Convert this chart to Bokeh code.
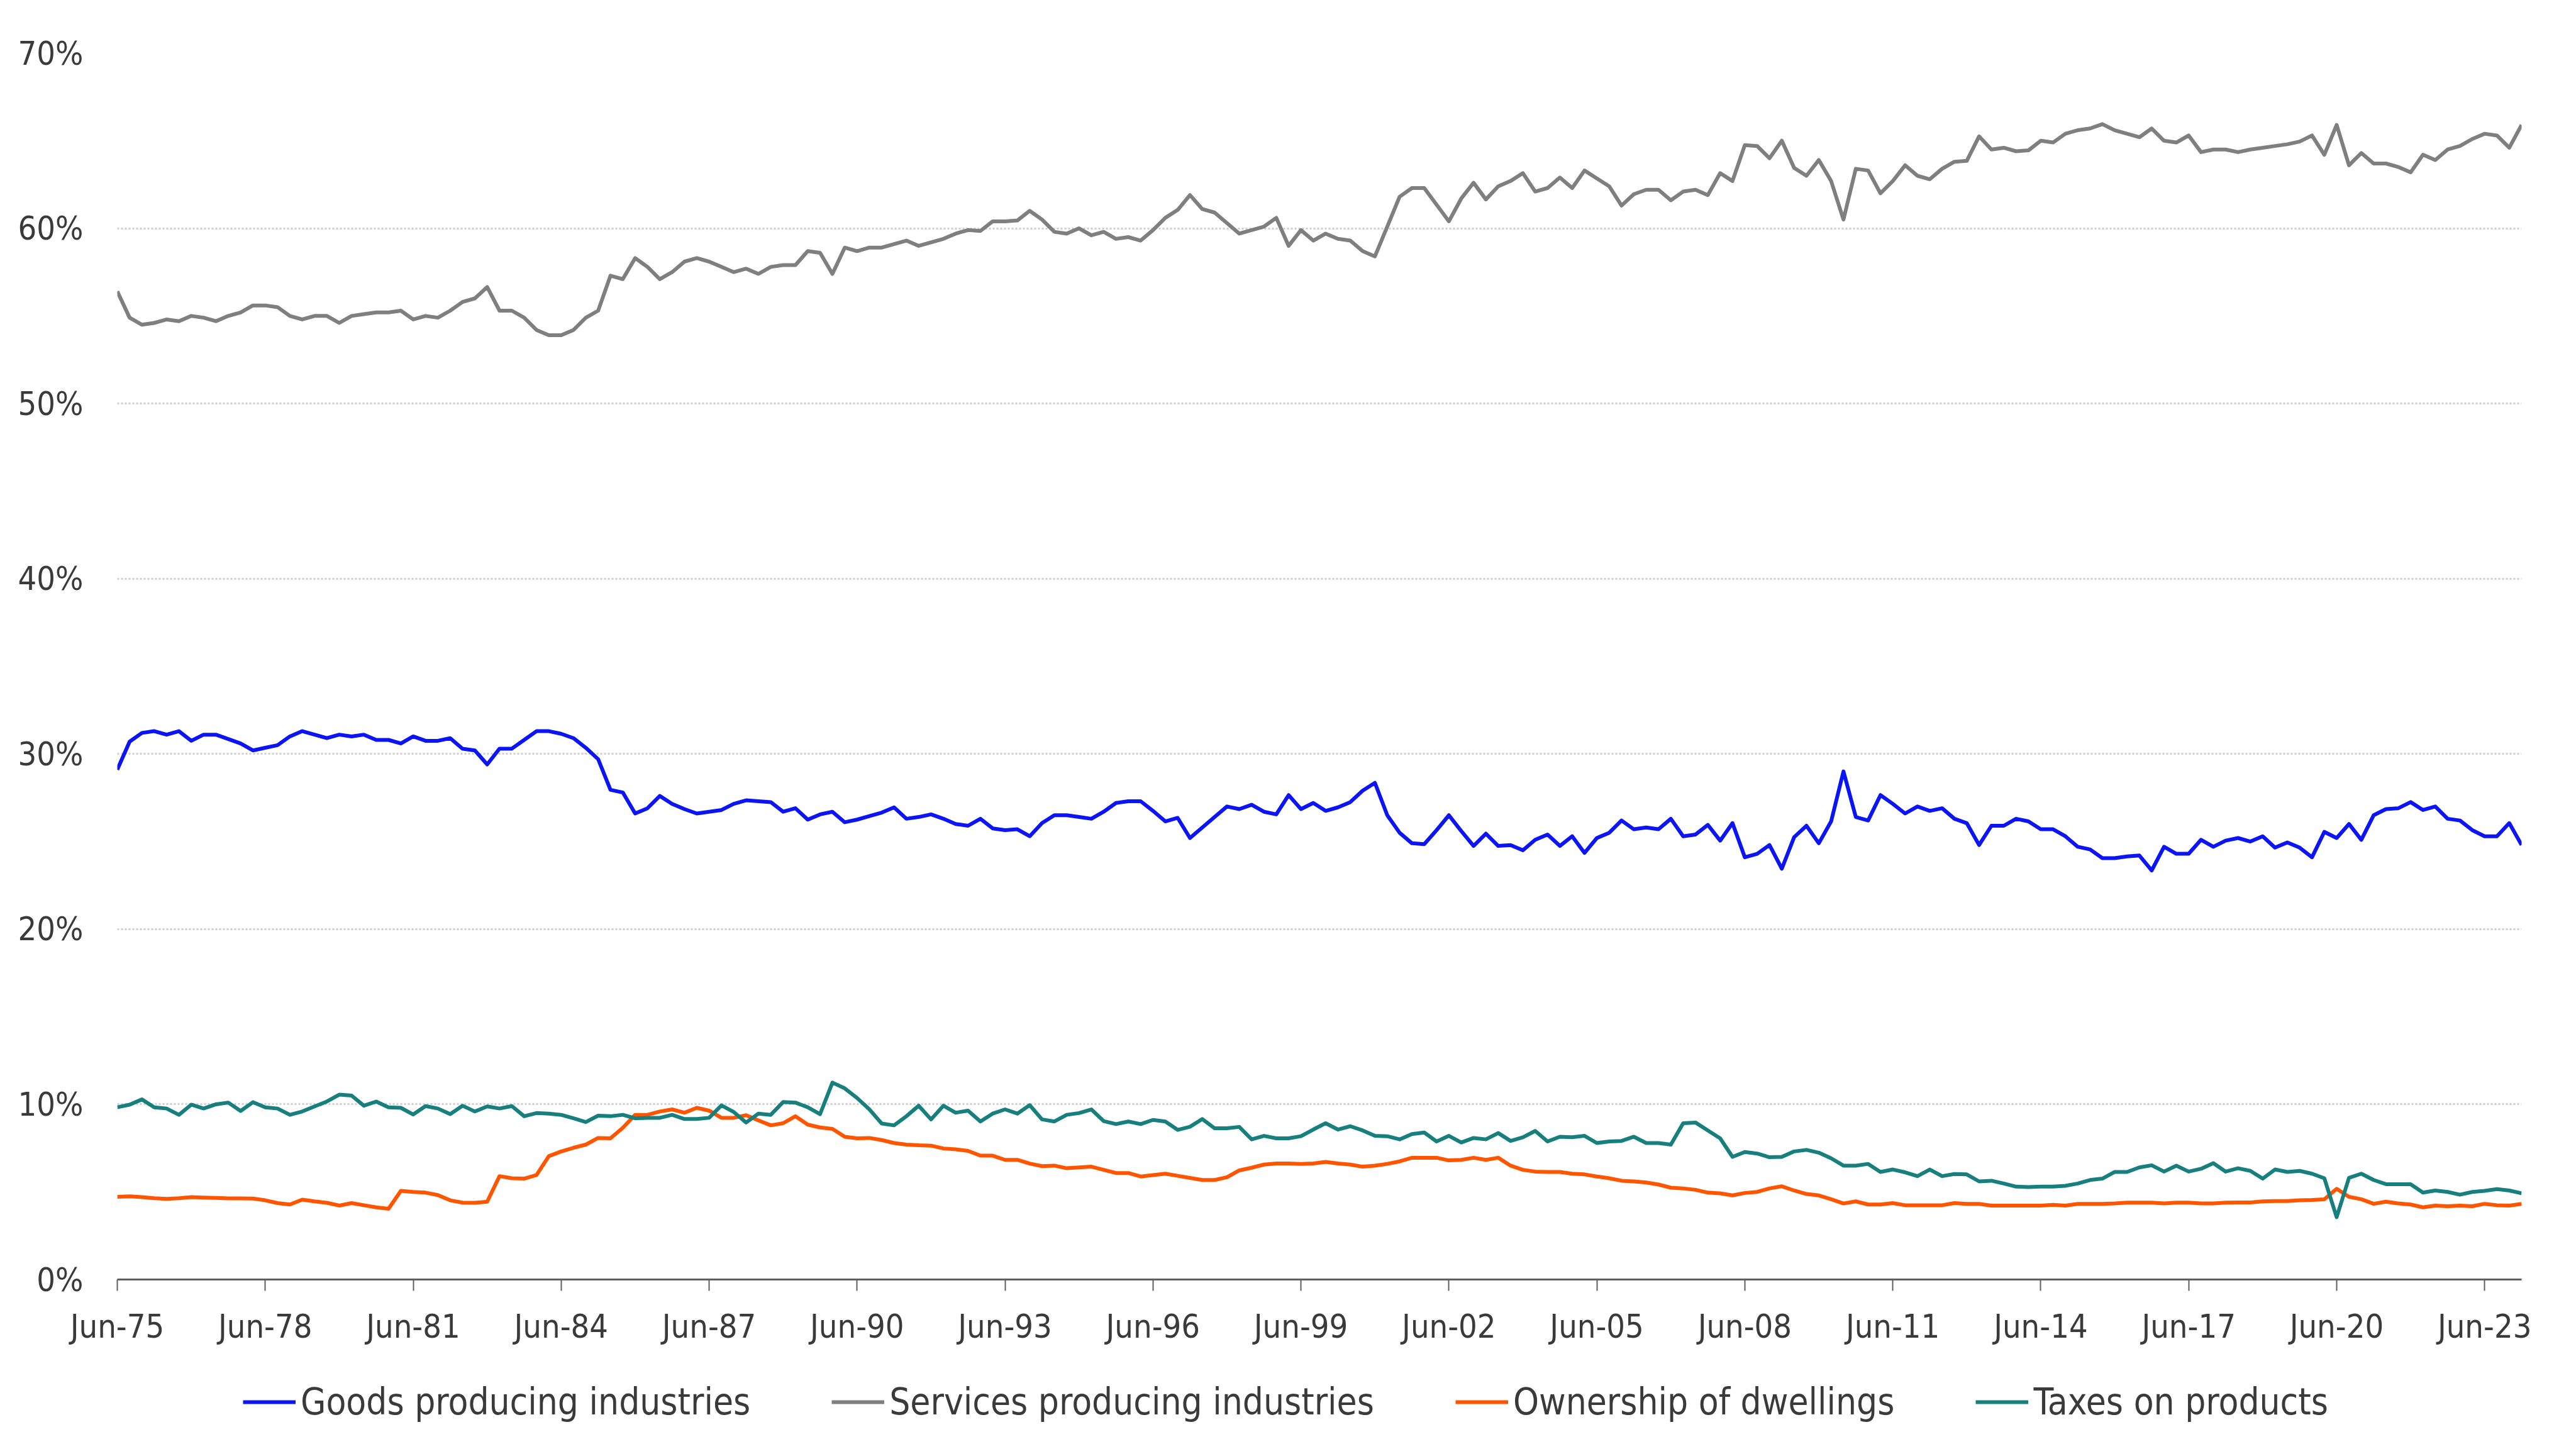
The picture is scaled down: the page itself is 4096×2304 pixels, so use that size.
from bokeh.plotting import figure
from bokeh.layouts import column
from bokeh.models import FixedTicker, PrintfTickFormatter, Legend, LegendItem, Range1d
from bokeh.embed import file_html
from bokeh.resources import INLINE

# Quarterly data, Jun-75 .. Mar-24 (share of GDP, %)
tick_labels = ["Jun-75", "Jun-78", "Jun-81", "Jun-84", "Jun-87", "Jun-90", "Jun-93",
               "Jun-96", "Jun-99", "Jun-02", "Jun-05", "Jun-08", "Jun-11", "Jun-14",
               "Jun-17", "Jun-20", "Jun-23"]

goods = [29.1, 30.7, 31.2, 31.3, 31.1, 31.3, 30.75, 31.1, 31.1, 30.85, 30.6, 30.2, 30.35, 30.5,
         31.0, 31.3, 31.1, 30.9, 31.1, 31.0, 31.1, 30.8, 30.8, 30.6, 31.0, 30.75, 30.75, 30.9,
         30.3, 30.2, 29.4, 30.3, 30.3, 30.8, 31.3, 31.3, 31.15, 30.9, 30.35, 29.7, 27.95, 27.8,
         26.6, 26.9, 27.6, 27.15, 26.85, 26.6, 26.7, 26.8, 27.15, 27.35, 27.3, 27.25, 26.7, 26.9,
         26.25, 26.55, 26.7, 26.1, 26.25, 26.45, 26.65, 26.95, 26.3, 26.4, 26.55, 26.3, 26.0, 25.9,
         26.3, 25.75, 25.65, 25.7, 25.3, 26.05, 26.5, 26.5, 26.4, 26.3, 26.7, 27.2, 27.3, 27.3,
         26.75, 26.15, 26.35, 25.2, 25.8, 26.4, 27.0, 26.85, 27.1, 26.7, 26.55, 27.65, 26.85, 27.2,
         26.75, 26.95, 27.25, 27.9, 28.35, 26.5, 25.5, 24.9, 24.85, 25.65, 26.5, 25.6, 24.75, 25.45,
         24.75, 24.8, 24.5, 25.1, 25.4, 24.75, 25.3, 24.35, 25.2, 25.5, 26.2, 25.7, 25.8, 25.7,
         26.3, 25.3, 25.4, 25.95, 25.05, 26.05, 24.1, 24.3, 24.8, 23.45, 25.25, 25.9, 24.9, 26.15,
         29.0, 26.4, 26.2, 27.65, 27.15, 26.6, 27.0, 26.75, 26.9, 26.3, 26.05, 24.8, 25.9, 25.9,
         26.3, 26.15, 25.7, 25.7, 25.3, 24.7, 24.55, 24.05, 24.05, 24.15, 24.2, 23.35, 24.7, 24.3,
         24.3, 25.1, 24.7, 25.05, 25.2, 25.0, 25.3, 24.65, 24.95, 24.65, 24.1, 25.55, 25.2, 26.0,
         25.1, 26.5, 26.85, 26.9, 27.25, 26.8, 27.0, 26.3, 26.2, 25.65, 25.3, 25.3, 26.05, 24.8]

services = [56.4, 54.9, 54.5, 54.6, 54.8, 54.7, 55.0, 54.9, 54.7, 55.0, 55.2, 55.6, 55.6, 55.5,
            55.0, 54.8, 55.0, 55.0, 54.6, 55.0, 55.1, 55.2, 55.2, 55.3, 54.8, 55.0, 54.9, 55.3,
            55.8, 56.0, 56.65, 55.3, 55.3, 54.9, 54.2, 53.9, 53.9, 54.2, 54.9, 55.3, 57.3, 57.1,
            58.3, 57.8, 57.1, 57.5, 58.1, 58.3, 58.1, 57.8, 57.5, 57.7, 57.4, 57.8, 57.9, 57.9,
            58.7, 58.6, 57.4, 58.9, 58.7, 58.9, 58.9, 59.1, 59.3, 59.0, 59.2, 59.4, 59.7, 59.9,
            59.85, 60.4, 60.4, 60.45, 61.0, 60.5, 59.8, 59.7, 60.0, 59.6, 59.8, 59.4, 59.5, 59.3,
            59.9, 60.6, 61.05, 61.9, 61.1, 60.9, 60.3, 59.7, 59.9, 60.1, 60.6, 59.0, 59.9, 59.3,
            59.7, 59.4, 59.3, 58.7, 58.4, 60.1, 61.8, 62.3, 62.3, 61.35, 60.4, 61.7, 62.6, 61.65,
            62.4, 62.7, 63.15, 62.1, 62.3, 62.9, 62.3, 63.3, 62.85, 62.4, 61.3, 61.95, 62.2, 62.2,
            61.6, 62.1, 62.2, 61.9, 63.15, 62.7, 64.75, 64.7, 64.0, 65.0, 63.45, 63.0, 63.9, 62.7,
            60.5, 63.4, 63.3, 62.0, 62.7, 63.6, 63.0, 62.8, 63.4, 63.8, 63.85, 65.25, 64.5, 64.6,
            64.4, 64.45, 65.0, 64.9, 65.4, 65.6, 65.7, 65.95, 65.6, 65.4, 65.2, 65.7, 65.0, 64.9,
            65.3, 64.35, 64.5, 64.5, 64.35, 64.5, 64.6, 64.7, 64.8, 64.95, 65.3, 64.2, 65.9, 63.6,
            64.3, 63.7, 63.7, 63.5, 63.2, 64.2, 63.9, 64.5, 64.7, 65.1, 65.4, 65.3, 64.6, 65.9]

dwellings = [4.72, 4.75, 4.70, 4.64, 4.60, 4.64, 4.70, 4.68, 4.66, 4.63, 4.63, 4.62, 4.52, 4.36,
             4.28, 4.56, 4.46, 4.38, 4.22, 4.36, 4.24, 4.12, 4.04, 5.06, 5.0, 4.96, 4.82, 4.52,
             4.39, 4.38, 4.44, 5.9, 5.78, 5.76, 5.96, 7.04, 7.31, 7.52, 7.7, 8.08, 8.06, 8.66,
             9.4, 9.4, 9.59, 9.71, 9.52, 9.8, 9.64, 9.23, 9.23, 9.38, 9.08, 8.8, 8.92, 9.32,
             8.84, 8.68, 8.6, 8.15, 8.06, 8.08, 7.96, 7.79, 7.7, 7.66,
             7.64, 7.48, 7.43, 7.34, 7.07, 7.07, 6.83, 6.83, 6.62, 6.47, 6.5, 6.35, 6.4, 6.44,
             6.26, 6.08, 6.08, 5.88, 5.96, 6.04, 5.92, 5.8, 5.68, 5.68, 5.84, 6.23, 6.38, 6.56,
             6.62, 6.62, 6.6, 6.62, 6.71, 6.62, 6.56, 6.44, 6.5, 6.6, 6.74, 6.95, 6.95, 6.95,
             6.8, 6.83, 6.95, 6.83, 6.95, 6.5, 6.26, 6.16, 6.14, 6.14, 6.04, 6.0, 5.88, 5.78,
             5.64, 5.6, 5.54, 5.42, 5.24, 5.2, 5.12, 4.96, 4.92, 4.8,
             4.94, 5.0, 5.2, 5.32, 5.08, 4.88, 4.8, 4.58, 4.34, 4.46, 4.28, 4.28, 4.36, 4.24,
             4.24, 4.24, 4.24, 4.36, 4.32, 4.32, 4.22, 4.22, 4.22, 4.22, 4.22, 4.26, 4.22, 4.32,
             4.32, 4.32, 4.34, 4.39, 4.39, 4.39, 4.34, 4.39, 4.39, 4.34, 4.34, 4.39, 4.4, 4.4,
             4.46, 4.48, 4.48, 4.52, 4.54, 4.58, 5.18, 4.72, 4.58, 4.32, 4.44, 4.34, 4.28, 4.12,
             4.22, 4.18, 4.22, 4.18, 4.32, 4.24, 4.22, 4.32]

taxes = [9.83, 9.98, 10.28, 9.83, 9.76, 9.4, 9.98, 9.76, 10.0, 10.1, 9.62, 10.12, 9.83, 9.76,
         9.4, 9.59, 9.88, 10.16, 10.55, 10.5, 9.92, 10.16, 9.83, 9.8, 9.42, 9.9, 9.76, 9.44,
         9.92, 9.59, 9.88, 9.76, 9.9, 9.32, 9.5, 9.47, 9.4, 9.2, 8.99, 9.35, 9.32, 9.4, 9.2,
         9.23, 9.23, 9.4, 9.16, 9.16, 9.23, 9.94, 9.56, 8.96, 9.47, 9.4, 10.13, 10.1, 9.83,
         9.44, 11.24, 10.91, 10.36, 9.71, 8.9, 8.8, 9.32, 9.92,
         9.14, 9.92, 9.52, 9.64, 9.02, 9.47, 9.71, 9.47, 9.95, 9.14, 9.02, 9.4, 9.5, 9.71,
         9.04, 8.87, 9.02, 8.87, 9.11, 9.02, 8.54, 8.72, 9.16, 8.63, 8.63, 8.71, 8.0, 8.2,
         8.06, 8.06, 8.18, 8.56, 8.92, 8.56, 8.75, 8.51, 8.2, 8.18, 8.0, 8.3, 8.39, 7.88,
         8.2, 7.82, 8.08, 8.0, 8.36, 7.91, 8.12, 8.48, 7.88, 8.15, 8.12, 8.2, 7.79, 7.88,
         7.91, 8.15, 7.79, 7.79, 7.7, 8.92, 8.96, 8.51, 8.06, 7.0,
         7.28, 7.19, 6.98, 7.0, 7.31, 7.4, 7.24, 6.92, 6.5, 6.5, 6.6, 6.14, 6.28, 6.12,
         5.9, 6.28, 5.9, 6.02, 6.0, 5.6, 5.64, 5.48, 5.3, 5.28, 5.3, 5.3, 5.35, 5.48,
         5.68, 5.76, 6.14, 6.14, 6.4, 6.52, 6.16, 6.5, 6.16, 6.32, 6.64, 6.16, 6.35, 6.2,
         5.76, 6.28, 6.14, 6.2, 6.04, 5.78, 3.56, 5.8, 6.04, 5.68, 5.44, 5.44, 5.44, 4.96,
         5.08, 5.0, 4.84, 5.0, 5.06, 5.16, 5.08, 4.92]

series_names = ["Goods producing industries", "Services producing industries",
                "Ownership of dwellings", "Taxes on products"]
series_colors = ["#0A14F5", "#7F7F7F", "#FF5500", "#17807E"]

for s in (goods, services, dwellings, taxes):
    assert len(s) == 196, len(s)

n = len(goods)
xs = list(range(n))
FONT = "DejaVu Sans Condensed"
TXT = "#3A3A3A"
W = 4080
H_MAIN = 2150
H_LEG = 146
LW = 6

p = figure(width=W, height=H_MAIN, output_backend="svg", toolbar_location=None,
           x_range=Range1d(0, n - 1), y_range=Range1d(0, 70))
p.min_border_left = 186
p.min_border_right = 71
p.min_border_top = 84
p.min_border_bottom = H_MAIN - 2034
p.outline_line_color = None
p.background_fill_color = "white"
p.border_fill_color = "white"

# grid
p.xgrid.grid_line_color = None
p.ygrid.ticker = FixedTicker(ticks=[10, 20, 30, 40, 50, 60, 70])
p.ygrid.grid_line_color = "#CFCFCF"
p.ygrid.grid_line_width = 3
p.ygrid.grid_line_dash = "3 3"

# y axis
p.yaxis.ticker = FixedTicker(ticks=[0, 10, 20, 30, 40, 50, 60, 70])
p.yaxis.formatter = PrintfTickFormatter(format="%d%%")
p.yaxis.axis_line_color = None
p.yaxis.major_tick_line_color = None
p.yaxis.minor_tick_line_color = None
p.yaxis.major_label_standoff = 48
p.yaxis.major_label_text_font = FONT
p.yaxis.major_label_text_font_size = "52px"
p.yaxis.major_label_text_color = TXT

# x axis
tick_pos = list(range(0, n, 12))
p.xaxis.ticker = FixedTicker(ticks=tick_pos)
p.xaxis.major_label_overrides = {t: lab for t, lab in zip(tick_pos, tick_labels)}
p.xaxis.axis_line_color = "#5F5F5F"
p.xaxis.axis_line_width = 3
p.xaxis.major_tick_line_color = "#5F5F5F"
p.xaxis.major_tick_line_width = 2
p.xaxis.major_tick_in = 0
p.xaxis.major_tick_out = 18
p.xaxis.minor_tick_line_color = None
p.xaxis.major_label_standoff = 26
p.xaxis.major_label_text_font = FONT
p.xaxis.major_label_text_font_size = "52px"
p.xaxis.major_label_text_color = TXT

all_series = (goods, services, dwellings, taxes)
for vals, color in zip(all_series, series_colors):
    p.line(xs, vals, line_color=color, line_width=LW, line_join="round")

# Legend strip below the chart (its own figure so that nothing is clipped).
# The same series are drawn there, but outside its visible y range, only to key the legend.
lg = figure(width=W, height=H_LEG, output_backend="svg", toolbar_location=None,
            x_range=Range1d(0, n - 1), y_range=Range1d(0, 1),
            x_axis_type=None, y_axis_type=None)
lg.min_border_left = 0
lg.min_border_right = 0
lg.min_border_top = 0
lg.min_border_bottom = 0
lg.outline_line_color = None
lg.xgrid.grid_line_color = None
lg.ygrid.grid_line_color = None
lg.background_fill_color = "white"
lg.border_fill_color = "white"

items = []
for nm, vals, color in zip(series_names, all_series, series_colors):
    r = lg.line(xs, vals, line_color=color, line_width=LW)
    items.append(LegendItem(label=nm, renderers=[r]))

legend = Legend(items=items, orientation="horizontal", location=(200, 33),
                glyph_width=84, glyph_height=30, label_standoff=8, spacing=129,
                padding=0, margin=0, border_line_color=None, background_fill_alpha=0,
                label_text_font=FONT, label_text_font_size="58px", label_text_color=TXT)
lg.add_layout(legend)

layout = column(p, lg, spacing=0)
open("out.html", "w").write(file_html(layout, INLINE))
